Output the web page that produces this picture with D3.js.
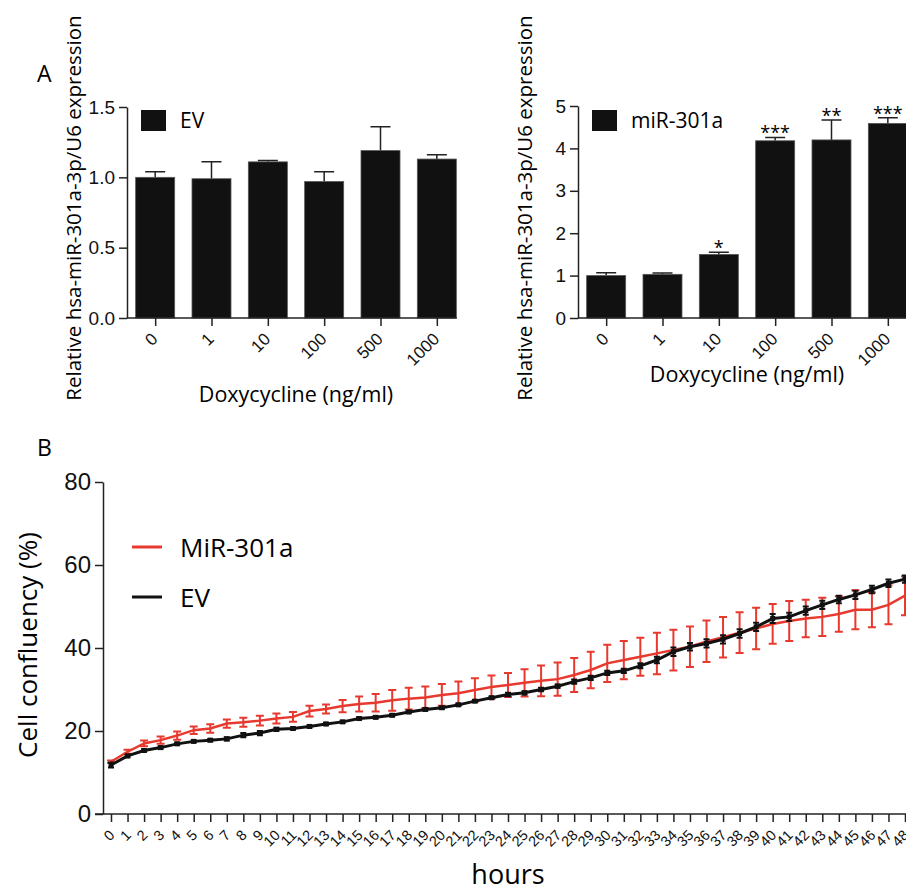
<!DOCTYPE html>
<html>
<head>
<meta charset="utf-8">
<script src="https://cdn.jsdelivr.net/npm/d3@7"></script>
<style>
  body { margin: 0; background: #fff; }
  svg { font-family: "Open Sans", sans-serif; }
  .axis path, .axis line { stroke: #222; stroke-width: 1.5; }
  .axis text { fill: #111; }
</style>
</head>
<body>
<div class="chart"></div>
<script>
// Doxycycline dose categories (panel A)
var doseLabels = ["0", "1", "10", "100", "500", "1000"];
var evMean = [1.00, 0.99, 1.11, 0.97, 1.19, 1.13];
var evErr = [0.04, 0.12, 0.01, 0.07, 0.17, 0.03];
var mirMean = [1.00, 1.03, 1.50, 4.18, 4.20, 4.59];
var mirErr = [0.07, 0.03, 0.05, 0.08, 0.47, 0.13];
var mirStars = ["", "", "*", "***", "**", "***"];

// Time course (panel B)
var hours = [0, 1, 2, 3, 4, 5, 6, 7, 8, 9, 10, 11, 12, 13, 14, 15, 16, 17, 18, 19, 20,
  21, 22, 23, 24, 25, 26, 27, 28, 29, 30, 31, 32, 33, 34, 35, 36, 37, 38, 39, 40,
  41, 42, 43, 44, 45, 46, 47, 48];
var mirConf = [12.6, 15.0, 17.0, 17.8, 18.9, 20.2, 20.6, 21.8, 22.1, 22.5, 23.0, 23.4, 24.8,
  25.3, 26.0, 26.5, 26.8, 27.4, 27.8, 28.1, 28.7, 29.1, 29.9, 30.6, 31.1, 31.6, 32.1, 32.5,
  33.5, 34.7, 36.3, 37.1, 37.9, 38.7, 39.5, 40.3, 41.6, 42.6, 43.7, 44.7, 45.8, 46.5, 47.1,
  47.5, 48.2, 49.2, 49.2, 50.4, 52.6];
var mirConfErr = [0.3, 0.5, 0.7, 0.9, 1.0, 0.9, 1.0, 1.0, 1.1, 1.2, 1.2, 1.2, 1.3, 1.1, 1.5,
  1.8, 2.1, 2.5, 2.6, 2.6, 2.6, 2.8, 2.8, 2.8, 2.9, 3.3, 3.7, 4.0, 4.1, 4.4, 4.5, 4.6, 4.6,
  5.0, 4.9, 4.9, 5.0, 4.9, 4.9, 5.0, 4.8, 4.8, 4.5, 4.6, 4.3, 4.7, 4.2, 4.7, 4.7];
var evConf = [11.8, 14.0, 15.3, 16.0, 16.9, 17.5, 17.8, 18.1, 19.0, 19.5, 20.4, 20.6, 21.1,
  21.7, 22.2, 23.0, 23.3, 23.8, 24.6, 25.2, 25.6, 26.3, 27.2, 28.0, 28.8, 29.2, 30.0, 30.8,
  31.9, 32.8, 34.0, 34.5, 35.7, 37.1, 39.1, 40.3, 41.1, 42.1, 43.5, 45.1, 47.1, 47.5, 49.0,
  50.4, 51.7, 52.8, 54.1, 55.6, 56.6];
var evConfErr = [0.6, 0.3, 0.3, 0.3, 0.3, 0.3, 0.3, 0.4, 0.5, 0.5, 0.4, 0.3, 0.3, 0.3, 0.3,
  0.3, 0.3, 0.3, 0.3, 0.3, 0.3, 0.3, 0.3, 0.3, 0.4, 0.4, 0.4, 0.4, 0.5, 0.5, 0.5, 0.5, 0.6,
  0.8, 1.0, 0.9, 1.0, 1.0, 1.0, 1.0, 1.1, 1.0, 1.0, 1.0, 0.9, 1.0, 0.9, 0.9, 0.9];

var red = "#e8392f";
var barFill = "#111";

var svg = d3.select(".chart")
    .append("svg")
    .attr("width", 906)
    .attr("height", 887);

// ---------- panel A: bar charts ----------
function barPanel(opts) {
    var g = svg.append("g");

    var x = d3.scalePoint()
        .domain(doseLabels)
        .range([opts.left, opts.left + 338])
        .padding(0.5);

    var y = d3.scaleLinear()
        .domain([0, opts.max])
        .range([318, opts.top]);

    var data = doseLabels.map(function(d, i) {
        return { dose: d, mean: opts.mean[i], err: opts.err[i], star: opts.stars ? opts.stars[i] : "" };
    });

    // error bars (upper only)
    g.selectAll(".err")
        .data(data)
        .enter()
        .append("path")
        .attr("d", function(d) {
            var cx = x(d.dose);
            return "M" + cx + "," + y(d.mean) + "V" + y(d.mean + d.err) +
                "M" + (cx - 10) + "," + y(d.mean + d.err) + "H" + (cx + 10);
        })
        .attr("stroke", "#222")
        .attr("stroke-width", 1.5)
        .attr("fill", "none");

    g.selectAll("rect")
        .data(data)
        .enter()
        .append("rect")
        .attr("x", function(d) { return x(d.dose) - 19.5; })
        .attr("width", 39)
        .attr("y", function(d) { return y(d.mean); })
        .attr("height", function(d) { return y(0) - y(d.mean); })
        .attr("fill", barFill)
        .attr("stroke", "#555")
        .attr("stroke-width", 0.8);

    g.selectAll(".star")
        .data(data)
        .enter()
        .append("text")
        .attr("x", function(d) { return x(d.dose); })
        .attr("y", function(d) { return y(d.mean + d.err) + 2; })
        .attr("text-anchor", "middle")
        .attr("font-size", 18)
        .text(function(d) { return d.star; });

    // axes
    var leftAxis = d3.axisLeft(y).tickValues(opts.ticks).tickFormat(opts.fmt).tickSize(8).tickSizeOuter(0);
    g.append("g")
        .attr("class", "axis")
        .attr("transform", "translate(" + opts.left + ",0)")
        .call(leftAxis)
        .selectAll("text")
        .attr("font-size", 19)
        .attr("dx", -1);

    var bottomAxis = d3.axisBottom(x).tickSize(8).tickSizeOuter(0);
    var xa = g.append("g")
        .attr("class", "axis")
        .attr("transform", "translate(0,318)")
        .call(bottomAxis);
    xa.select(".domain").remove();
    xa.selectAll("text")
        .attr("font-size", 17)
        .attr("text-anchor", "end")
        .attr("y", 0)
        .attr("dy", 0)
        .attr("transform", "translate(3,22) rotate(-45)");
    xa.append("path")
        .attr("d", "M" + opts.left + ",0H" + (x(doseLabels[5]) + 20));

    // legend
    g.append("rect")
        .attr("x", opts.left + 14)
        .attr("y", 110)
        .attr("width", 25)
        .attr("height", 21)
        .attr("fill", barFill);
    g.append("text")
        .attr("x", opts.left + 53)
        .attr("y", 128)
        .attr("font-size", 21)
        .text(opts.legend);

    // axis titles
    g.append("text")
        .attr("transform", "rotate(-90)")
        .attr("x", -208)
        .attr("y", opts.left - 46)
        .attr("text-anchor", "middle")
        .attr("font-size", 20.5)
        .text("Relative hsa-miR-301a-3p/U6 expression");

    g.append("text")
        .attr("x", opts.left + 169)
        .attr("y", opts.xTitleY)
        .attr("text-anchor", "middle")
        .attr("font-size", 21.5)
        .text("Doxycycline (ng/ml)");
}

barPanel({ left: 127, top: 107, max: 1.5, ticks: [0, 0.5, 1.0, 1.5], fmt: d3.format(".1f"),
    mean: evMean, err: evErr, legend: "EV", xTitleY: 402 });
barPanel({ left: 578, top: 106, max: 5, ticks: [0, 1, 2, 3, 4, 5], fmt: d3.format("d"),
    mean: mirMean, err: mirErr, stars: mirStars, legend: "miR-301a", xTitleY: 382 });

svg.append("text").attr("x", 37).attr("y", 82).attr("font-size", 23).text("A");
svg.append("text").attr("x", 37).attr("y", 456).attr("font-size", 23).text("B");

// ---------- panel B: confluency time course ----------
var xLin = d3.scaleLinear().domain([0, 48]).range([111, 905]);
var yLin = d3.scaleLinear().domain([0, 80]).range([814, 482]);

var b = svg.append("g");

function series(mean, err, color, cap, width, marker) {
    var pts = hours.map(function(h, i) { return { h: h, v: mean[i], e: err[i] }; });
    b.append("g")
        .selectAll("path")
        .data(pts)
        .enter()
        .append("path")
        .attr("d", function(d) {
            var cx = xLin(d.h);
            var y1 = yLin(d.v + d.e), y2 = yLin(d.v - d.e);
            return "M" + cx + "," + y1 + "V" + y2 +
                "M" + (cx - cap) + "," + y1 + "H" + (cx + cap) +
                "M" + (cx - cap) + "," + y2 + "H" + (cx + cap);
        })
        .attr("stroke", color)
        .attr("stroke-width", 2)
        .attr("fill", "none");

    var line = d3.line()
        .x(function(d) { return xLin(d.h); })
        .y(function(d) { return yLin(d.v); });

    b.append("path")
        .datum(pts)
        .attr("d", line)
        .attr("stroke", color)
        .attr("stroke-width", width)
        .attr("fill", "none");

    if (marker) {
        b.append("g")
            .selectAll("rect")
            .data(pts)
            .enter()
            .append("rect")
            .attr("x", function(d) { return xLin(d.h) - 2.5; })
            .attr("y", function(d) { return yLin(d.v) - 2.5; })
            .attr("width", 5)
            .attr("height", 5)
            .attr("fill", color);
    }
}

series(mirConf, mirConfErr, red, 4, 2.5, false);
series(evConf, evConfErr, "#111", 3, 3, true);

var yAxisB = d3.axisLeft(yLin).tickValues([0, 20, 40, 60, 80]).tickSize(8).tickSizeOuter(0);
b.append("g")
    .attr("class", "axis")
    .attr("transform", "translate(103,0)")
    .call(yAxisB)
    .selectAll("text")
    .attr("font-size", 24)
    .attr("dx", -1);

var xAxisB = d3.axisBottom(xLin).tickValues(hours).tickSize(8).tickSizeOuter(0);
var xb = b.append("g")
    .attr("class", "axis")
    .attr("transform", "translate(0,814)")
    .call(xAxisB);
xb.select(".domain").remove();
xb.append("path").attr("d", "M95,0H906");
xb.selectAll("text")
    .attr("font-size", 14.5)
    .attr("text-anchor", "end")
    .attr("y", 0)
    .attr("dy", 0)
    .attr("transform", "translate(4,22) rotate(-45)");

b.append("text")
    .attr("transform", "rotate(-90)")
    .attr("x", -645)
    .attr("y", 37)
    .attr("text-anchor", "middle")
    .attr("font-size", 26)
    .text("Cell confluency (%)");

b.append("text")
    .attr("x", 508)
    .attr("y", 884)
    .attr("text-anchor", "middle")
    .attr("font-size", 27)
    .text("hours");

// legend
var legendB = [{ label: "MiR-301a", color: red, y: 547 }, { label: "EV", color: "#111", y: 597 }];
legendB.forEach(function(d) {
    b.append("line")
        .attr("x1", 132).attr("x2", 162)
        .attr("y1", d.y).attr("y2", d.y)
        .attr("stroke", d.color)
        .attr("stroke-width", 3);
    b.append("text")
        .attr("x", 180)
        .attr("y", d.y + 10)
        .attr("font-size", 26)
        .text(d.label);
});
</script>
</body>
</html>
